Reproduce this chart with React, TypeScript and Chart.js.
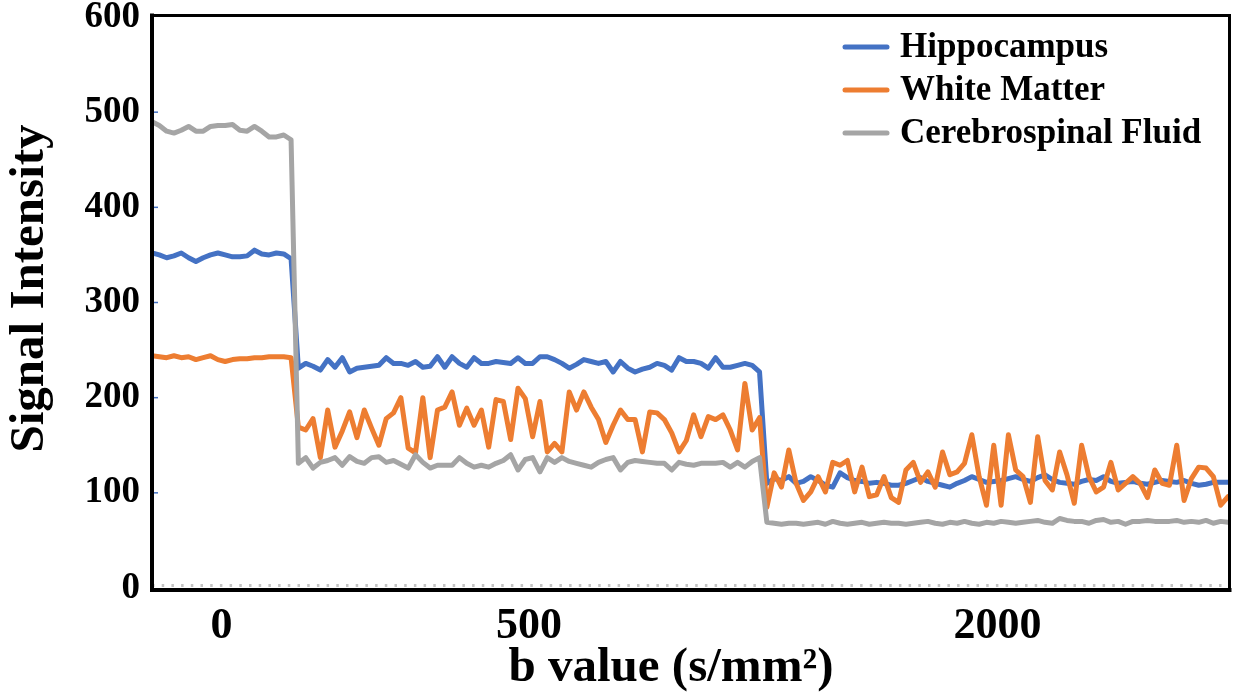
import React, { useEffect, useRef } from "react";
import { Chart, registerables } from "chart.js";

Chart.register(...registerables);

// ---------- data ----------
const bValueLabels = ["0", "500", "2000"];
const seriesNames = ["Hippocampus", "White Matter", "Cerebrospinal Fluid"];
const seriesColors = ["#4472C4", "#ED7D31", "#A5A5A5"];
const xAxisTitle = "b value (s/mm²)";
const yAxisTitle = "Signal Intensity";
const yTickMin = 0;
const yTickMax = 600;
const yTickStep = 100;

const hippocampusB0 = [352, 350, 347, 349, 352, 347, 343, 347, 350, 352, 350, 348, 348, 349, 355, 351, 350, 352, 351, 346];
const hippocampusB500 = [
  231, 236, 233, 229, 240, 232, 242, 227, 231, 232,
  233, 234, 242, 236, 236, 234, 238, 232, 233, 243,
  232, 243, 236, 232, 242, 236, 236, 238, 237, 236,
  242, 236, 236, 243, 243, 240, 236, 231, 235, 240,
  238, 236, 238, 227, 238, 231, 227, 230, 232, 236,
  234, 229, 242, 238, 238, 236, 231, 242, 232, 232,
  234, 236, 234, 227,
];
const hippocampusB2000 = [
  110, 115, 113, 117, 110, 112, 117, 113, 108, 106,
  121, 116, 113, 112, 110, 111, 110, 108, 108, 110,
  113, 116, 112, 110, 108, 106, 110, 113, 117, 114,
  111, 112, 113, 115, 117, 114, 112, 116, 119, 114,
  111, 110, 109, 112, 114, 113, 117, 112, 110, 111,
  112, 110, 109, 111, 113, 112, 111, 113, 110, 108,
  109, 111, 111, 111,
];

const whiteMatterB0 = [244, 243, 242, 244, 242, 243, 240, 242, 244, 240, 238, 240, 241, 241, 242, 242, 243, 243, 243, 242];
const whiteMatterB500 = [
  169, 166, 178, 137, 187, 148, 165, 185, 158, 187,
  168, 150, 178, 184, 200, 147, 142, 200, 137, 187,
  190, 206, 171, 189, 171, 187, 148, 198, 196, 156,
  210, 199, 159, 196, 143, 152, 143, 206, 187, 206,
  190, 177, 153, 171, 187, 177, 177, 143, 185, 184,
  177, 163, 143, 155, 182, 159, 180, 177, 182, 166,
  145, 215, 166, 179,
];
const whiteMatterB2000 = [
  85, 121, 106, 145, 110, 92, 101, 117, 101, 132,
  129, 134, 101, 127, 96, 98, 117, 95, 90, 124,
  132, 111, 122, 106, 143, 119, 122, 131, 161, 117,
  87, 150, 87, 161, 124, 117, 90, 159, 113, 103,
  143, 119, 89, 150, 117, 101, 106, 132, 103, 110,
  117, 110, 95, 124, 110, 108, 150, 92, 115, 127,
  126, 117, 87, 96,
];

const csfB0 = [490, 486, 480, 478, 481, 485, 480, 480, 485, 486, 486, 487, 481, 480, 485, 480, 474, 474, 476, 471];
const csfB500 = [
  131, 137, 126, 132, 134, 137, 129, 138, 133, 131,
  137, 138, 132, 134, 130, 126, 140, 132, 126, 129,
  129, 129, 137, 131, 127, 129, 127, 131, 134, 140,
  124, 135, 137, 122, 137, 132, 137, 133, 131, 129,
  127, 132, 135, 137, 124, 132, 134, 133, 132, 131,
  131, 124, 132, 130, 129, 131, 131, 131, 132, 127,
  132, 127, 133, 137,
];
const csfB2000 = [
  69, 68, 67, 68, 68, 67, 68, 69, 67, 70,
  68, 67, 68, 69, 67, 68, 69, 68, 68, 67,
  68, 69, 70, 68, 67, 69, 68, 70, 68, 67,
  69, 68, 70, 69, 68, 69, 70, 71, 69, 68,
  73, 71, 70, 70, 68, 71, 72, 69, 70, 67,
  70, 70, 71, 70, 70, 70, 71, 69, 70, 69,
  71, 68, 70, 69,
];

// ---------- derived tables ----------
const seriesSegments = [
  [hippocampusB0, hippocampusB500, hippocampusB2000],
  [whiteMatterB0, whiteMatterB500, whiteMatterB2000],
  [csfB0, csfB500, csfB2000],
];
const segmentLengths = seriesSegments[0].map((s) => s.length);
const totalPoints = segmentLengths.reduce((a, b) => a + b, 0);
const segmentCenters: number[] = [];
{
  let start = 0;
  for (const len of segmentLengths) {
    segmentCenters.push(start + (len - 1) / 2);
    start += len;
  }
}

const FONT = "'Liberation Serif', 'Times New Roman', serif";

const framePlugin = {
  id: "frameAndExtras",
  beforeDatasetsDraw(chart: any) {
    const { ctx, chartArea } = chart;
    const { left, right, bottom } = chartArea;
    ctx.save();
    // faint minor tick row along the bottom
    ctx.strokeStyle = "#c4c4c4";
    ctx.lineWidth = 3;
    ctx.setLineDash([2.5, 7.2]);
    ctx.beginPath();
    ctx.moveTo(left, bottom - 2.5);
    ctx.lineTo(right, bottom - 2.5);
    ctx.stroke();
    ctx.setLineDash([]);
    // small blue inner tick marks on the y axis
    const yScale = chart.scales.y;
    ctx.strokeStyle = "#4472C4";
    ctx.lineWidth = 1.5;
    for (const t of yScale.ticks) {
      if (t.value <= yTickMin || t.value >= yTickMax) continue;
      const py = yScale.getPixelForValue(t.value);
      ctx.beginPath();
      ctx.moveTo(left + 1, py);
      ctx.lineTo(left + 6, py);
      ctx.stroke();
    }
    ctx.restore();
  },
  afterDraw(chart: any) {
    const { ctx, chartArea } = chart;
    const { left, right, top, bottom } = chartArea;
    ctx.save();
    // frame
    ctx.strokeStyle = "#000";
    ctx.lineCap = "square";
    ctx.lineWidth = 3;
    ctx.beginPath();
    ctx.moveTo(left, top - 1.5);
    ctx.lineTo(right + 1.5, top - 1.5);
    ctx.lineTo(right + 1.5, bottom);
    ctx.stroke();
    ctx.lineWidth = 4;
    ctx.beginPath();
    ctx.moveTo(left, top - 1.5);
    ctx.lineTo(left, bottom + 2);
    ctx.lineTo(right + 1.5, bottom + 2);
    ctx.stroke();

    // legend
    const ds = chart.data.datasets;
    const rowY = [top + 30, top + 73, top + 116];
    ctx.font = `bold 35px ${FONT}`;
    ctx.textBaseline = "middle";
    ctx.textAlign = "left";
    for (let i = 0; i < ds.length; i++) {
      const y = rowY[i];
      ctx.strokeStyle = ds[i].borderColor;
      ctx.lineWidth = 5;
      ctx.lineCap = "round";
      ctx.beginPath();
      ctx.moveTo(right - 383, y);
      ctx.lineTo(right - 341, y);
      ctx.stroke();
      ctx.fillStyle = "#000";
      ctx.fillText(ds[i].label, right - 328, y + 1);
    }

    // axis titles
    ctx.fillStyle = "#000";
    ctx.font = `bold 49px ${FONT}`;
    ctx.textAlign = "center";
    ctx.textBaseline = "middle";
    ctx.fillText(xAxisTitle, (left + right) / 2 - 19, 668);
    ctx.save();
    ctx.translate(30, (top + bottom) / 2 - 14);
    ctx.rotate(-Math.PI / 2);
    ctx.fillText(yAxisTitle, 0, 0);
    ctx.restore();
    ctx.restore();
  },
};

export default function App() {
  const canvasRef = useRef<HTMLCanvasElement | null>(null);

  useEffect(() => {
    const canvas = canvasRef.current;
    if (!canvas) return;
    const datasets = seriesNames.map((name, i) => {
      const values = ([] as number[]).concat(...seriesSegments[i]);
      return {
        label: name,
        data: values.map((v, idx) => ({ x: idx, y: v })),
        borderColor: seriesColors[i],
        backgroundColor: seriesColors[i],
        borderWidth: 5,
        pointRadius: 0,
        tension: 0,
        borderJoinStyle: "round" as const,
        borderCapStyle: "round" as const,
        // Excel draws later series on top; lower order is drawn last in Chart.js
        order: seriesNames.length - 1 - i,
      };
    });

    const chart = new Chart(canvas, {
      type: "line",
      data: { datasets },
      plugins: [framePlugin],
      options: {
        animation: false,
        responsive: false,
        layout: { padding: { left: 0, right: 7, top: 17, bottom: 0 } },
        plugins: { legend: { display: false }, tooltip: { enabled: false } },
        scales: {
          x: {
            type: "linear",
            min: 0,
            max: totalPoints - 1,
            grid: { display: false, drawTicks: false },
            border: { display: false },
            afterBuildTicks: (scale: any) => {
              scale.ticks = segmentCenters.map((v) => ({ value: v }));
            },
            afterFit: (scale: any) => {
              scale.height = 106;
            },
            ticks: {
              autoSkip: false,
              maxRotation: 0,
              padding: 12,
              color: "#000",
              font: { family: FONT, size: 44, weight: "bold", lineHeight: 1.2 },
              callback: (_v: any, index: number) => bValueLabels[index],
            },
          },
          y: {
            min: yTickMin,
            max: yTickMax,
            grid: { display: false, drawTicks: false },
            border: { display: false },
            afterFit: (scale: any) => {
              scale.width = 152;
            },
            ticks: {
              stepSize: yTickStep,
              padding: 12,
              color: "#000",
              font: { family: FONT, size: 37, weight: "bold", lineHeight: 0.2 },
            },
          },
        },
      } as any,
    });
    return () => chart.destroy();
  }, []);

  return (
    <div style={{ position: "fixed", left: 0, top: 0, width: 1235, height: 694, background: "#fff" }}>
      <canvas ref={canvasRef} width={1235} height={694} style={{ display: "block" }} />
    </div>
  );
}
